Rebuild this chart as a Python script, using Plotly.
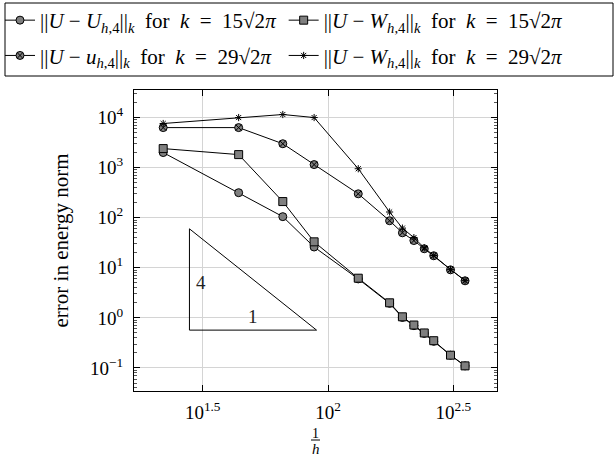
import math
import plotly.graph_objects as go

# ---- data ----
inv_h = [22, 44, 66, 88, 132, 176, 198, 220, 242, 264, 308, 352]
err_U_k15 = [2000, 316, 105, 26, 6.0, 1.95, 1.02, 0.70, 0.49, 0.34, 0.18, 0.11]
err_W_k15 = [2400, 1820, 210, 33, 6.2, 2.0, 1.05, 0.72, 0.50, 0.35, 0.18, 0.11]
err_u_k29 = [6300, 6300, 3000, 1150, 300, 87, 50, 35, 24, 17.4, 9.1, 5.5]
err_W_k29 = [7600, 10000, 11500, 10000, 950, 130, 62, 40, 25, 17.6, 9.2, 5.6]

SP = "&nbsp;"
def label(sym, k):
    return ("||<i>U</i>" + SP + "−" + SP + sym + "<sub><i>h</i>,4</sub>||<sub><i>k</i></sub>"
            + SP * 2 + "for" + SP * 2 + "<i>k</i>" + SP * 2 + "=" + SP * 2 + k + "√2<i>π</i>")

names = [
    label("<i>U</i>", "15"),
    label("<i>W</i>", "15"),
    label("<i>u</i>", "29"),
    label("<i>W</i>", "29"),
]
legend_ids = ["legend", "legend2", "legend", "legend2"]

# slope triangle
tri_x = [28, 28, 90, 28]
tri_y = [0.57, 60, 0.57, 0.57]
tri_labels = ["4", "1"]
tri_label_x = [31, 50]
tri_label_y = [5.2, 1.05]

x_tickvals = [10 ** 1.5, 10 ** 2, 10 ** 2.5]
x_ticktext = ["10<sup>1.5</sup>", "10<sup>2</sup>", "10<sup>2.5</sup>"]
y_exps = [-1, 0, 1, 2, 3, 4]
y_tickvals = [10.0 ** e for e in y_exps]
y_ticktext = ["10<sup>" + str(e).replace("-", "−") + "</sup>" for e in y_exps]
y_minor = [m * 10.0 ** e for e in range(-2, 5) for m in range(2, 10)]

FONT = "Liberation Serif"
GRAY = "#7f7f7f"
W, H = 614, 457

fig = go.Figure()

styles = [
    dict(symbol="circle", color=GRAY, size=8, line=dict(color="black", width=1)),
    dict(symbol="square", color=GRAY, size=8, line=dict(color="black", width=1)),
    dict(symbol="circle-x", color=GRAY, size=8, line=dict(color="black", width=1)),
    dict(symbol="asterisk-open", color="black", size=6, line=dict(color="black", width=1)),
]
series = [err_U_k15, err_W_k15, err_u_k29, err_W_k29]
for i, (nm, ys, st, lg) in enumerate(zip(names, series, styles, legend_ids)):
    fig.add_trace(go.Scatter(x=inv_h, y=ys, mode="lines+markers", name=nm,
                             legend=lg, legendgroup="g%d" % i,
                             line=dict(color="black", width=1), marker=st))

fig.add_trace(go.Scatter(x=tri_x, y=tri_y, mode="lines", showlegend=False,
                         line=dict(color="black", width=1), hoverinfo="skip"))

for t, xx, yy in zip(tri_labels, tri_label_x, tri_label_y):
    fig.add_annotation(x=math.log10(xx), y=math.log10(yy), xref="x", yref="y", text=t,
                       showarrow=False, font=dict(family=FONT, size=19, color="#222"))

# x-axis title as a fraction 1/h (paper == whole figure here)
fig.add_annotation(x=315.5 / W, y=1 - 433 / H, xref="paper", yref="paper", text="1",
                   showarrow=False, font=dict(family=FONT, size=14, color="black"),
                   yanchor="middle")
fig.add_annotation(x=315.5 / W, y=1 - 449 / H, xref="paper", yref="paper", text="<i>h</i>",
                   showarrow=False, font=dict(family=FONT, size=15, color="black"),
                   yanchor="middle")
fig.add_shape(type="line", xref="paper", yref="paper", x0=311 / W, x1=320 / W,
              y0=1 - 440 / H, y1=1 - 440 / H, line=dict(color="black", width=1))

# legend frame (both legend columns)
fig.add_shape(type="rect", xref="paper", yref="paper", x0=5 / W, x1=613 / W,
              y0=1 - 76 / H, y1=1 - 3 / H,
              line=dict(color="black", width=1), fillcolor="rgba(0,0,0,0)")

axis_common = dict(showline=True, linecolor="black", linewidth=1, mirror="allticks",
                   ticks="inside", tickcolor="black", showgrid=True, gridcolor="#d4d4d4",
                   gridwidth=1, zeroline=False, automargin=False,
                   tickfont=dict(family=FONT, size=19, color="black"))

fig.update_xaxes(type="log", range=[1.226, 2.674], domain=[134 / W, 497 / W],
                 tickmode="array", tickvals=x_tickvals,
                 ticktext=x_ticktext, ticklen=6, ticklabelstandoff=4, **axis_common)
fig.update_yaxes(type="log", range=[-1.46, 4.55], domain=[1 - 391 / H, 1 - 90 / H],
                 tickmode="array", tickvals=y_tickvals,
                 ticktext=y_ticktext, ticklen=6, ticklabelstandoff=6,
                 title=dict(text="error in energy norm", font=dict(family=FONT, size=21, color="black")),
                 minor=dict(tickmode="array", tickvals=y_minor, ticks="inside", ticklen=3,
                            tickcolor="#555", showgrid=False),
                 **axis_common)

leg_common = dict(orientation="v", xref="paper", yref="paper", xanchor="left",
                  yanchor="top", borderwidth=0, bgcolor="rgba(0,0,0,0)",
                  font=dict(family=FONT, size=21, color="black"), itemwidth=30,
                  tracegroupgap=5)

fig.update_layout(
    width=W, height=H,
    margin=dict(l=0, r=0, t=0, b=0, autoexpand=False),
    plot_bgcolor="white", paper_bgcolor="white",
    font=dict(family=FONT, size=20, color="black"),
    legend=dict(x=0.0, y=1.0, **leg_common),
    legend2=dict(x=0.462, y=1.0, **leg_common),
    showlegend=True,
)

fig.write_html("out.html", config={"displayModeBar": False},
               post_script="document.body.style.margin='0';")
